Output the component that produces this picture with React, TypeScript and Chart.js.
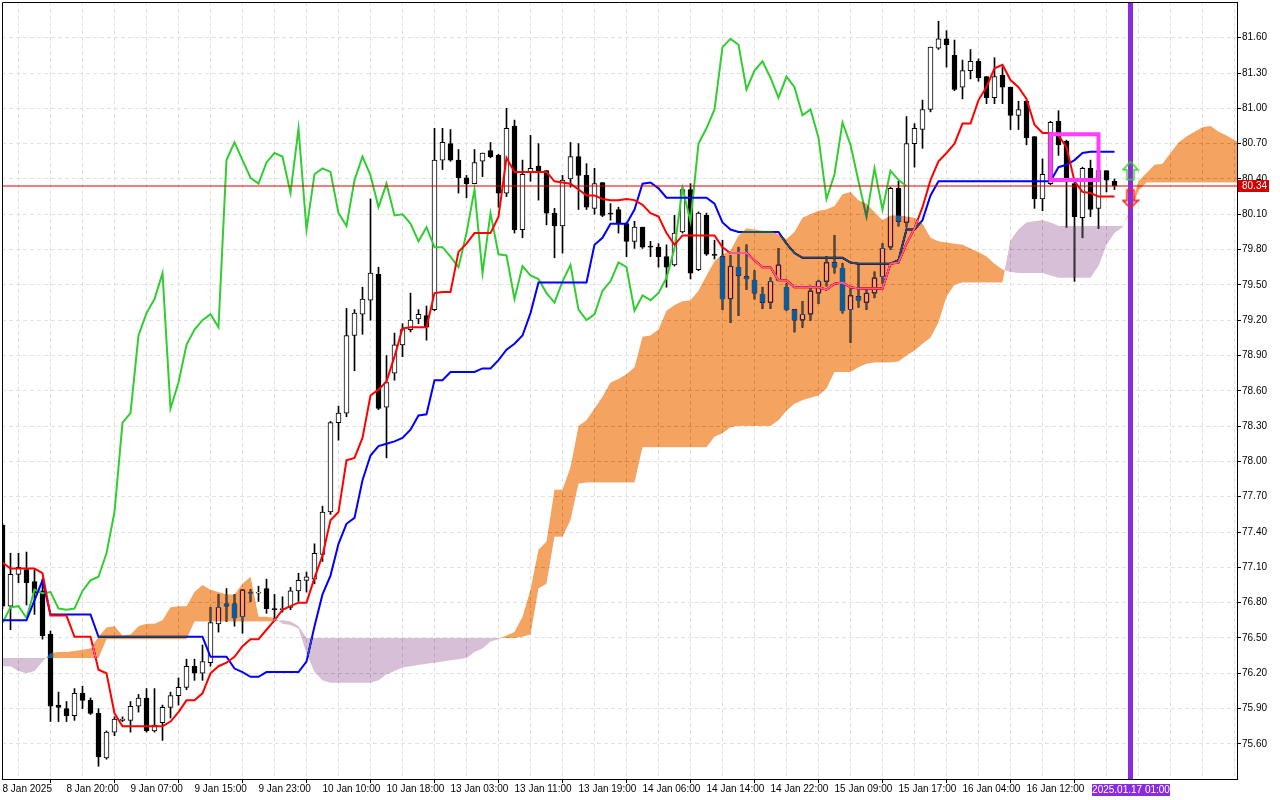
import React, { useEffect, useRef } from 'react';
import { Chart, registerables } from 'chart.js';

Chart.register(...registerables);

// ---------- data ----------
const timeLabels = [
  '8 Jan 2025', '8 Jan 20:00', '9 Jan 07:00', '9 Jan 15:00', '9 Jan 23:00', '10 Jan 10:00',
  '10 Jan 18:00', '13 Jan 03:00', '13 Jan 11:00', '13 Jan 19:00', '14 Jan 06:00', '14 Jan 14:00',
  '14 Jan 22:00', '15 Jan 09:00', '15 Jan 17:00', '16 Jan 04:00', '16 Jan 12:00',
];
const priceTicks = [75.6, 75.9, 76.2, 76.5, 76.8, 77.1, 77.4, 77.7, 78.0, 78.3, 78.6, 78.9, 79.2, 79.5, 79.8, 80.1, 80.4, 80.7, 81.0, 81.3, 81.6];

const opens = [
  77.46, 76.77, 77.04, 77.08, 76.98, 76.90, 76.53, 75.93, 75.90, 75.84,
  76.03, 75.97, 75.86, 75.48, 75.70, 75.80, 75.80, 75.92, 75.99, 75.71,
  75.78, 75.91, 76.01, 76.08, 76.26, 76.20, 76.29, 76.62, 76.79, 76.79,
  76.68, 76.89, 76.88, 76.92, 76.75, 76.74, 76.76, 76.90, 76.99, 77.00,
  77.21, 77.57, 78.33, 78.41, 79.07, 79.25, 79.37, 79.59, 78.46, 78.75,
  78.99, 79.12, 79.21, 79.24, 79.29, 80.56, 80.70, 80.56, 80.41, 80.36,
  80.55, 80.64, 80.60, 80.28, 80.85, 79.97, 80.46, 80.51, 80.47, 80.11,
  80.00, 80.40, 80.59, 80.43, 80.15, 80.37, 80.11, 80.14, 80.02, 79.87,
  79.99, 79.83, 79.82, 79.74, 79.67, 79.95, 80.31, 79.63, 80.09, 79.76,
  79.74, 79.38, 79.65, 79.57, 79.54, 79.42, 79.35, 79.54, 79.48, 79.29,
  79.20, 79.25, 79.43, 79.53, 79.69, 79.64, 79.29, 79.40, 79.35, 79.43,
  79.57, 79.82, 80.32, 80.03, 80.70, 80.82, 80.99, 81.51, 81.59, 81.45,
  81.18, 81.32, 81.40, 81.27, 81.09, 81.28, 81.18, 80.94, 81.06, 80.76,
  80.23, 80.36, 80.89, 80.72, 80.36, 80.07, 80.49, 80.15, 80.47, 80.38,
];
const highs = [
  77.47, 77.22, 77.22, 77.23, 77.08, 77.00, 76.56, 76.04, 75.96, 76.07,
  76.09, 75.99, 75.90, 75.71, 75.83, 75.83, 75.96, 76.02, 76.07, 76.07,
  75.93, 76.04, 76.16, 76.32, 76.32, 76.44, 76.76, 76.87, 76.92, 76.87,
  76.91, 76.91, 76.94, 77.00, 76.87, 76.85, 76.93, 77.05, 77.06, 77.30,
  77.62, 78.34, 78.47, 79.30, 79.29, 79.48, 80.23, 79.65, 78.90, 79.09,
  79.17, 79.43, 79.29, 79.32, 80.83, 80.83, 80.82, 80.65, 80.43, 80.65,
  80.62, 80.71, 80.61, 81.00, 80.90, 80.56, 80.77, 80.70, 80.47, 80.15,
  80.43, 80.71, 80.70, 80.53, 80.49, 80.37, 80.19, 80.16, 80.03, 80.04,
  79.99, 79.87, 79.85, 79.84, 80.09, 80.33, 80.36, 80.12, 80.11, 79.88,
  79.88, 79.75, 79.82, 79.84, 79.62, 79.48, 79.56, 79.81, 79.51, 79.29,
  79.36, 79.49, 79.54, 79.74, 79.92, 79.68, 79.47, 79.67, 79.46, 79.61,
  79.85, 80.33, 80.38, 80.93, 80.87, 81.07, 81.52, 81.74, 81.66, 81.58,
  81.41, 81.50, 81.42, 81.27, 81.43, 81.35, 81.18, 81.06, 81.07, 80.76,
  80.57, 80.89, 80.98, 80.73, 80.37, 80.50, 80.56, 80.50, 80.47, 80.40,
];
const lows = [
  76.75, 76.57, 76.97, 76.78, 76.70, 76.49, 75.79, 75.79, 75.79, 75.80,
  75.90, 75.85, 75.41, 75.47, 75.67, 75.79, 75.70, 75.87, 75.70, 75.70,
  75.63, 75.82, 75.93, 76.06, 76.14, 76.14, 76.26, 76.55, 76.64, 76.60,
  76.54, 76.81, 76.81, 76.71, 76.65, 76.72, 76.74, 76.81, 76.89, 76.96,
  77.15, 77.55, 78.18, 78.38, 78.77, 79.08, 79.20, 78.44, 78.03, 78.69,
  78.89, 79.10, 79.17, 79.03, 79.28, 80.48, 80.55, 80.28, 80.24, 80.36,
  80.42, 80.58, 80.16, 80.25, 79.94, 79.90, 80.38, 80.22, 80.01, 79.73,
  79.77, 80.33, 80.14, 80.14, 80.10, 80.08, 80.05, 79.94, 79.74, 79.81,
  79.81, 79.74, 79.65, 79.48, 79.66, 79.94, 79.55, 79.62, 79.75, 79.72,
  79.29, 79.18, 79.24, 79.46, 79.38, 79.30, 79.30, 79.54, 79.28, 79.10,
  79.14, 79.20, 79.34, 79.49, 79.60, 79.26, 79.01, 79.31, 79.29, 79.39,
  79.51, 79.80, 80.00, 79.99, 80.50, 80.66, 80.97, 81.50, 81.35, 81.15,
  81.08, 81.25, 81.23, 81.04, 81.04, 81.04, 80.82, 80.82, 80.69, 80.15,
  80.13, 80.35, 80.60, 79.99, 79.53, 79.90, 80.08, 79.98, 80.29, 80.31,
];
const closes = [
  76.77, 77.04, 77.10, 76.97, 76.88, 76.52, 75.92, 75.91, 75.84, 76.03,
  75.97, 75.86, 75.49, 75.70, 75.81, 75.81, 75.92, 75.99, 75.71, 75.76,
  75.91, 76.01, 76.08, 76.26, 76.20, 76.30, 76.63, 76.76, 76.77, 76.67,
  76.91, 76.88, 76.89, 76.75, 76.74, 76.75, 76.90, 76.99, 77.02, 77.22,
  77.57, 78.33, 78.41, 79.07, 79.26, 79.38, 79.60, 78.45, 78.67, 78.99,
  79.12, 79.20, 79.25, 79.14, 80.56, 80.71, 80.56, 80.41, 80.36, 80.54,
  80.62, 80.59, 80.28, 80.83, 79.97, 80.44, 80.49, 80.46, 80.11, 80.00,
  80.39, 80.59, 80.43, 80.16, 80.36, 80.09, 80.10, 80.02, 79.87, 79.99,
  79.82, 79.82, 79.74, 79.65, 79.94, 80.31, 79.60, 80.11, 79.76, 79.75,
  79.38, 79.66, 79.58, 79.55, 79.43, 79.35, 79.53, 79.67, 79.29, 79.20,
  79.25, 79.45, 79.53, 79.69, 79.65, 79.28, 79.41, 79.37, 79.43, 79.56,
  79.81, 80.32, 80.04, 80.70, 80.83, 80.99, 81.52, 81.59, 81.54, 81.16,
  81.32, 81.40, 81.26, 81.09, 81.27, 81.18, 80.94, 80.99, 80.75, 80.23,
  80.44, 80.88, 80.69, 80.38, 80.08, 80.49, 80.14, 80.47, 80.39, 80.34,
];
const tenkan = [
  77.14, 77.09, 77.09, 77.09, 77.09, 77.05, 76.69, 76.69, 76.69, 76.51,
  76.51, 76.51, 76.23, 76.20, 75.86, 75.75, 75.75, 75.75, 75.75, 75.75,
  75.75, 75.79, 75.87, 75.97, 75.97, 76.03, 76.20, 76.26, 76.29, 76.34,
  76.43, 76.49, 76.49, 76.57, 76.65, 76.74, 76.77, 76.80, 76.80, 77.01,
  77.20, 77.50, 77.57, 78.01, 78.03, 78.20, 78.56, 78.61, 78.68, 78.89,
  79.13, 79.14, 79.14, 79.14, 79.43, 79.44, 79.44, 79.78, 79.85, 79.94,
  79.94, 79.94, 80.08, 80.58, 80.46, 80.46, 80.46, 80.46, 80.46, 80.38,
  80.37, 80.36, 80.31, 80.26, 80.26, 80.23, 80.22, 80.22, 80.23, 80.22,
  80.18, 80.11, 80.08, 79.94, 79.84, 79.92, 79.92, 79.92, 79.92, 79.92,
  79.82, 79.77, 79.77, 79.77, 79.71, 79.65, 79.65, 79.54, 79.54, 79.48,
  79.48, 79.48, 79.48, 79.46, 79.51, 79.52, 79.48, 79.47, 79.47, 79.47,
  79.47, 79.68, 79.69, 79.85, 79.98, 80.16, 80.39, 80.55, 80.62, 80.70,
  80.87, 80.87, 81.07, 81.18, 81.34, 81.37, 81.24, 81.18, 81.08, 80.86,
  80.79, 80.79, 80.77, 80.67, 80.38, 80.29, 80.28, 80.25, 80.25, 80.25,
];
const kijun = [
  76.65, 76.65, 76.65, 76.65, 76.82, 76.99, 76.70, 76.70, 76.70, 76.70,
  76.70, 76.70, 76.51, 76.51, 76.51, 76.51, 76.51, 76.51, 76.51, 76.51,
  76.51, 76.51, 76.51, 76.51, 76.51, 76.51, 76.34, 76.34, 76.34, 76.24,
  76.21, 76.17, 76.17, 76.21, 76.21, 76.21, 76.21, 76.21, 76.30, 76.60,
  76.87, 77.03, 77.30, 77.47, 77.52, 77.84, 78.05, 78.13, 78.15, 78.17,
  78.20, 78.27, 78.39, 78.40, 78.69, 78.69, 78.76, 78.76, 78.76, 78.76,
  78.79, 78.79, 78.86, 78.95, 79.00, 79.07, 79.26, 79.52, 79.52, 79.52,
  79.52, 79.52, 79.52, 79.52, 79.84, 79.90, 80.02, 80.02, 80.02, 80.14,
  80.36, 80.37, 80.32, 80.24, 80.24, 80.24, 80.24, 80.24, 80.24, 80.19,
  80.03, 79.97, 79.95, 79.95, 79.95, 79.95, 79.95, 79.95, 79.85, 79.77,
  79.73, 79.73, 79.73, 79.73, 79.73, 79.73, 79.69, 79.68, 79.68, 79.68,
  79.68, 79.68, 79.71, 79.97, 79.97, 80.05, 80.26, 80.38, 80.38, 80.38,
  80.38, 80.38, 80.38, 80.38, 80.38, 80.38, 80.38, 80.38, 80.38, 80.38,
  80.38, 80.38, 80.50, 80.52, 80.56, 80.62, 80.63, 80.63, 80.63, 80.63,
];
const chikou = [
  76.63, 76.76, 76.77, 76.67, 76.91, 76.88, 76.89, 76.75, 76.74, 76.75,
  76.90, 76.99, 77.02, 77.22, 77.57, 78.33, 78.41, 79.07, 79.26, 79.38,
  79.60, 78.45, 78.67, 78.99, 79.12, 79.20, 79.25, 79.14, 80.56, 80.71,
  80.56, 80.41, 80.36, 80.54, 80.62, 80.59, 80.28, 80.83, 79.97, 80.44,
  80.49, 80.46, 80.11, 80.00, 80.39, 80.59, 80.43, 80.16, 80.36, 80.09,
  80.10, 80.02, 79.87, 79.99, 79.82, 79.82, 79.74, 79.65, 79.94, 80.31,
  79.60, 80.11, 79.76, 79.75, 79.38, 79.66, 79.58, 79.55, 79.43, 79.35,
  79.53, 79.67, 79.29, 79.20, 79.25, 79.45, 79.53, 79.69, 79.65, 79.28,
  79.41, 79.37, 79.43, 79.56, 79.81, 80.32, 80.04, 80.70, 80.83, 80.99,
  81.52, 81.59, 81.54, 81.16, 81.32, 81.40, 81.26, 81.09, 81.27, 81.18,
  80.94, 80.99, 80.75, 80.23, 80.44, 80.88, 80.69, 80.38, 80.08, 80.49,
  80.14, 80.47, 80.39, 80.34,
];
const senkouA = [
  76.26, 76.26, 76.22, 76.20, 76.22, 76.30, 76.37, 76.38, 76.38, 76.39,
  76.40, 76.41, 76.51, 76.59, 76.60, 76.52, 76.53, 76.60, 76.62, 76.62,
  76.65, 76.76, 76.77, 76.77, 76.89, 76.95, 76.91, 76.89, 76.87, 76.87,
  76.96, 77.02, 76.68, 76.68, 76.67, 76.62, 76.61, 76.58, 76.37, 76.21,
  76.14, 76.12, 76.12, 76.12, 76.12, 76.12, 76.12, 76.14, 76.19, 76.22,
  76.25, 76.26, 76.27, 76.28, 76.29, 76.30, 76.31, 76.32, 76.33, 76.38,
  76.41, 76.47, 76.49, 76.52, 76.55, 76.68, 76.91, 77.25, 77.32, 77.76,
  77.76, 77.95, 78.30, 78.35, 78.45, 78.55, 78.67, 78.70, 78.74, 78.80,
  79.06, 79.07, 79.12, 79.28, 79.33, 79.36, 79.37, 79.45, 79.58, 79.70,
  79.76, 79.79, 79.92, 79.98, 79.97, 79.96, 79.96, 79.93, 79.89, 79.95,
  80.07, 80.10, 80.13, 80.14, 80.17, 80.27, 80.29, 80.22, 80.19, 80.12,
  80.05, 80.09, 80.09, 80.08, 80.07, 80.02, 79.90, 79.87, 79.86, 79.85,
  79.84, 79.81, 79.78, 79.74, 79.68, 79.63, 79.61, 79.60, 79.60, 79.60,
  79.60, 79.58, 79.56, 79.56, 79.56, 79.56, 79.56, 79.66, 79.84, 79.94,
  79.99, 80.15, 80.38, 80.45, 80.52, 80.53, 80.62, 80.71, 80.76, 80.80,
  80.84, 80.85, 80.80, 80.77, 80.73, 80.70,
];
const senkouB = [
  76.33, 76.33, 76.33, 76.33, 76.33, 76.33, 76.33, 76.33, 76.33, 76.33,
  76.33, 76.33, 76.33, 76.49, 76.49, 76.49, 76.49, 76.49, 76.49, 76.49,
  76.49, 76.49, 76.49, 76.49, 76.64, 76.64, 76.64, 76.64, 76.64, 76.64,
  76.64, 76.64, 76.64, 76.64, 76.64, 76.65, 76.64, 76.60, 76.50, 76.50,
  76.50, 76.50, 76.50, 76.50, 76.50, 76.50, 76.50, 76.50, 76.50, 76.50,
  76.50, 76.50, 76.50, 76.50, 76.50, 76.50, 76.50, 76.50, 76.50, 76.50,
  76.50, 76.50, 76.50, 76.50, 76.50, 76.51, 76.53, 76.92, 76.96, 77.36,
  77.36, 77.50, 77.81, 77.82, 77.82, 77.82, 77.82, 77.82, 77.82, 77.82,
  78.12, 78.12, 78.12, 78.12, 78.12, 78.12, 78.12, 78.12, 78.12, 78.21,
  78.24, 78.29, 78.30, 78.30, 78.30, 78.30, 78.30, 78.35, 78.43, 78.49,
  78.52, 78.54, 78.56, 78.62, 78.76, 78.76, 78.76, 78.80, 78.83, 78.84,
  78.84, 78.84, 78.85, 78.90, 78.94, 79.00, 79.05, 79.18, 79.40, 79.50,
  79.52, 79.52, 79.52, 79.52, 79.52, 79.52, 79.88, 79.97, 80.03, 80.04,
  80.05, 80.03, 80.00, 80.00, 80.00, 80.00, 80.00, 80.00, 80.00, 80.00,
  80.00, 80.12, 80.30, 80.37, 80.37, 80.37, 80.37, 80.37, 80.37, 80.37,
  80.37, 80.37, 80.37, 80.37, 80.37, 80.37,
];

const lastPrice = 80.34;
const markerIndex = 141;
const markerLabel = '2025.01.17 01:00';
const boxFrom = 131;
const boxTo = 137;
const boxLow = 80.39;
const boxHigh = 80.78;
const arrowUpPrice = 80.47;
const arrowDownPrice = 80.23;

// ---------- view ----------
const X_MIN = -0.0625;
const X_MAX = 154.3125;
const Y_MIN = 75.3018;
const Y_MAX = 81.9033;
const FONT = { family: 'Liberation Sans, Arial, sans-serif', size: 10 };
const xTickValues: number[] = [];
for (let v = 0; v <= 152; v += 4) xTickValues.push(v);

function makeArrow(up: boolean, color: string): HTMLCanvasElement {
  const c = document.createElement('canvas');
  c.width = 18;
  c.height = 21;
  const g = c.getContext('2d')!;
  g.strokeStyle = color;
  g.lineWidth = 1.6;
  g.lineJoin = 'miter';
  g.beginPath();
  if (up) {
    g.moveTo(9, 1.5);
    g.lineTo(16.5, 9.5);
    g.lineTo(12.5, 9.5);
    g.lineTo(12.5, 19.5);
    g.lineTo(5.5, 19.5);
    g.lineTo(5.5, 9.5);
    g.lineTo(1.5, 9.5);
  } else {
    g.moveTo(9, 19.5);
    g.lineTo(16.5, 12);
    g.lineTo(12.5, 12);
    g.lineTo(12.5, 1.5);
    g.lineTo(5.5, 1.5);
    g.lineTo(5.5, 12);
    g.lineTo(1.5, 12);
  }
  g.closePath();
  g.stroke();
  return c;
}

const cloudBlend = {
  id: 'cloudBlend',
  afterDatasetDraw(chart: any, args: any) {
    const ds = chart.data.datasets[args.index];
    if (ds.label === 'senkouB') chart.ctx.globalCompositeOperation = 'difference';
    if (ds.label === 'senkouA') chart.ctx.globalCompositeOperation = 'source-over';
  },
};

const decor = {
  id: 'decor',
  beforeDraw(chart: any) {
    const { ctx, width, height } = chart;
    ctx.save();
    ctx.globalCompositeOperation = 'source-over';
    ctx.fillStyle = '#ffffff';
    ctx.fillRect(0, 0, width, height);
    ctx.restore();
  },
  afterDraw(chart: any) {
    const { ctx, chartArea: a, scales } = chart;
    const x = scales.x;
    const y = scales.y;
    ctx.save();
    ctx.globalCompositeOperation = 'source-over';
    ctx.strokeStyle = '#000';
    ctx.lineWidth = 1;
    ctx.beginPath();
    ctx.moveTo(Math.round(a.left) + 0.5, a.bottom);
    ctx.lineTo(Math.round(a.left) + 0.5, Math.round(a.top) + 0.5);
    ctx.lineTo(a.right, Math.round(a.top) + 0.5);
    ctx.stroke();

    ctx.font = `${FONT.size}px ${FONT.family}`;
    ctx.textBaseline = 'middle';
    // current price label
    const py = y.getPixelForValue(lastPrice);
    ctx.fillStyle = '#d40000';
    ctx.fillRect(Math.round(a.right) + 1, Math.round(py) - 6, 31, 12);
    ctx.fillStyle = '#ffffff';
    ctx.textAlign = 'left';
    ctx.fillText(lastPrice.toFixed(2), Math.round(a.right) + 5, Math.round(py) + 0.5);

    // vertical line time label
    const mx = x.getPixelForValue(markerIndex);
    ctx.fillStyle = '#8a2be2';
    ctx.fillRect(Math.round(mx) - 39, Math.round(a.bottom) + 5, 78, 12);
    ctx.fillStyle = '#ffffff';
    ctx.textAlign = 'center';
    ctx.fillText(markerLabel, Math.round(mx), Math.round(a.bottom) + 11.5);
    ctx.restore();
  },
};

function buildConfig(): any {
  const idx = (arr: number[]) => arr.map((v, i) => ({ x: i, y: v }));
  const bodyColors = opens.map((o, i) => (closes[i] >= o ? '#ffffff' : '#000000'));
  const up = makeArrow(true, '#3ccf2a');
  const down = makeArrow(false, '#ff1a1a');

  const line = (label: string, data: any[], color: string, width: number, order: number) => ({
    type: 'line',
    label,
    data,
    borderColor: color,
    borderWidth: width,
    pointRadius: 0,
    tension: 0,
    fill: false,
    order,
  });

  const datasets: any[] = [
    {
      type: 'line',
      label: 'arrows',
      data: [
        { x: markerIndex, y: arrowUpPrice },
        { x: markerIndex, y: arrowDownPrice },
      ],
      showLine: false,
      pointStyle: [up, down],
      pointRadius: 9,
      order: 0,
    },
    line('marker', [{ x: markerIndex, y: 70 }, { x: markerIndex, y: 90 }], '#8a2be2', 5, 1),
    {
      ...line('box', [
        { x: boxFrom, y: boxHigh },
        { x: boxTo, y: boxHigh },
        { x: boxTo, y: boxLow },
        { x: boxFrom, y: boxLow },
        { x: boxFrom, y: boxHigh },
      ], '#ff3cff', 4, 2),
      borderJoinStyle: 'miter',
      borderCapStyle: 'square',
    },
    line('price', [{ x: -5, y: lastPrice }, { x: 200, y: lastPrice }], '#dd0000', 1, 3),
    {
      type: 'line',
      label: 'senkouA',
      data: idx(senkouA),
      borderColor: 'rgba(0,0,0,0)',
      borderWidth: 0,
      pointRadius: 0,
      tension: 0,
      fill: { target: '+1', above: '#0b5b9f', below: '#274027' },
      order: 4,
    },
    {
      type: 'line',
      label: 'senkouB',
      data: idx(senkouB),
      borderColor: 'rgba(0,0,0,0)',
      borderWidth: 0,
      pointRadius: 0,
      tension: 0,
      fill: false,
      order: 5,
    },
    line('tenkan', idx(tenkan), '#ff0000', 2, 6),
    line('kijun', idx(kijun), '#0000ff', 2, 7),
    line('chikou', idx(chikou), '#32cd32', 2, 8),
    {
      type: 'bar',
      label: 'bodies',
      data: opens.map((o, i) => ({ x: i, y: [o, closes[i]] })),
      backgroundColor: bodyColors,
      borderColor: '#000000',
      borderWidth: 1,
      borderSkipped: false,
      barThickness: 5,
      grouped: false,
      order: 9,
    },
    {
      type: 'bar',
      label: 'wicks',
      data: lows.map((l, i) => ({ x: i, y: [l, highs[i]] })),
      backgroundColor: '#000000',
      borderWidth: 0,
      barThickness: 1,
      grouped: false,
      order: 10,
    },
  ];

  return {
    type: 'line',
    data: { datasets },
    plugins: [cloudBlend, decor],
    options: {
      animation: false,
      responsive: false,
      events: [],
      layout: { autoPadding: false, padding: { left: 2, top: 2, right: 0, bottom: 0 } },
      plugins: {
        legend: { display: false },
        tooltip: { enabled: false },
        filler: { propagate: false, drawTime: 'beforeDatasetDraw' },
      },
      scales: {
        x: {
          type: 'linear',
          position: 'bottom',
          min: X_MIN,
          max: X_MAX,
          offset: false,
          afterBuildTicks: (s: any) => {
            s.ticks = xTickValues.map((v) => ({ value: v }));
          },
          afterFit: (s: any) => {
            s.height = 21;
            s.paddingLeft = 0;
            s.paddingRight = 0;
          },
          ticks: {
            autoSkip: false,
            maxRotation: 0,
            minRotation: 0,
            align: 'start',
            labelOffset: 0,
            padding: 0,
            color: '#000',
            font: FONT,
            callback: (v: number) => {
              const k = v / 8;
              return Number.isInteger(k) && k < timeLabels.length ? timeLabels[k] : '';
            },
          },
          grid: {
            color: '#e2e2e2',
            lineWidth: 1,
            tickLength: 4,
            tickColor: (c: any) => (c.tick && c.tick.value % 8 === 0 && c.tick.value <= 136 ? '#000' : 'rgba(0,0,0,0)'),
            tickBorderDash: [],
          },
          border: { display: true, color: '#000', width: 1, dash: [4, 3] },
        },
        y: {
          type: 'linear',
          position: 'right',
          min: Y_MIN,
          max: Y_MAX,
          beginAtZero: false,
          afterBuildTicks: (s: any) => {
            s.ticks = priceTicks.map((v) => ({ value: v }));
          },
          afterFit: (s: any) => {
            s.width = 43;
            s.paddingTop = 0;
            s.paddingBottom = 0;
          },
          ticks: {
            autoSkip: false,
            padding: 1,
            color: '#000',
            font: FONT,
            crossAlign: 'near',
            callback: (v: number) => v.toFixed(2),
          },
          grid: {
            color: '#e2e2e2',
            lineWidth: 1,
            tickLength: 4,
            tickColor: '#000',
            tickBorderDash: [],
          },
          border: { display: true, color: '#000', width: 1, dash: [4, 3] },
        },
      },
    },
  };
}

export default function App() {
  const ref = useRef<HTMLCanvasElement>(null);
  useEffect(() => {
    if (!ref.current) return;
    const chart = new Chart(ref.current, buildConfig());
    return () => chart.destroy();
  }, []);
  return (
    <div style={{ position: 'fixed', left: 0, top: 0, width: 1280, height: 800, background: '#fff' }}>
      <canvas ref={ref} width={1280} height={800} style={{ display: 'block', width: 1280, height: 800 }} />
    </div>
  );
}
